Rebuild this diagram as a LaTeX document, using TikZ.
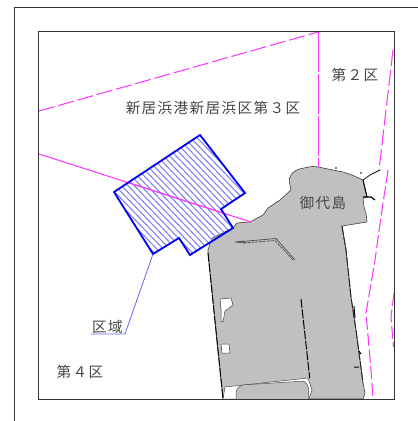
\documentclass[tikz,border=0pt]{standalone}
\usepackage{fontspec}
\newfontfamily\cjk[LetterSpace=9.5]{Noto Sans CJK JP}
\definecolor{isl}{HTML}{C0C0C0}
\definecolor{mag}{HTML}{FF38FF}
\definecolor{hat}{HTML}{7C7CF4}
\definecolor{lead}{HTML}{6868F0}
\definecolor{frm}{HTML}{333333}
\tikzset{
  frameline/.style={draw=frm,line width=0.9pt},
  zone/.style={draw=mag,line width=1.05pt},
  zonedash/.style={zone,dash pattern=on 16pt off 4pt},
  zonedashb/.style={zone,dash pattern=on 13pt off 3.5pt},
  shore/.style={draw=black,line width=0.7pt},
  shoredash/.style={draw=black,line width=1pt,dash pattern=on 9pt off 1.5pt},
  lbl/.style={inner sep=0pt,text=black!72,font=\cjk\fontsize{14.6}{15}\selectfont,anchor=center},
  lim/.style={draw=blue!95!black,line width=1.8pt,line join=miter},
}
\begin{document}
\begin{tikzpicture}[x=1pt,y=-1pt]
\useasboundingbox (0,0) rectangle (418,421);
\fill[white] (0,0) rectangle (418,421);
% outer frame
\draw[frameline] (418,7.5) -- (14.5,7.5) -- (14.5,421);
% island
\begin{scope}
\clip (38.5,31.5) rectangle (394.5,399);
\path[fill=isl,draw=black!75,line width=0.6pt]
 (208,253) -- (208,250) -- (212,238) -- (233,228) -- (237,223) -- (250,222) -- (263,215) -- (268,208)
 -- (280,200) -- (291,190) [rounded corners=4pt] -- (288.5,178) -- (295,170) -- (313,166) [sharp corners] -- (318,167) -- (343,172)
 -- (352,175) -- (363,180) -- (367,197) -- (363,198) -- (364,207) -- (366,213) -- (367,222) -- (342,226)
 -- (346,250) -- (351,297) -- (356,330) -- (363,383) -- (365,393) -- (363,399) -- (223,399) -- cycle;
% white inlets
\path[fill=white,draw=black!70,line width=0.5pt] (225,387) -- (308,378) -- (312,390) -- (309,399) -- (223,399) -- cycle;
\path[fill=isl,draw=black!70,line width=0.5pt,rounded corners=3pt] (236,402) -- (236,390) -- (241,385) -- (305,381) -- (309,388) -- (308,402);
\path[fill=white,draw=black!75,line width=0.5pt] (220,299) -- (231,298) -- (233,305) -- (225,311) -- (223,322) -- (221,321) -- (221,310) -- cycle;
\path[fill=white,draw=black!75,line width=0.5pt] (221,344) -- (229,344) -- (230,353) -- (222,353) -- cycle;
\path[fill=white,draw=black!80,line width=0.5pt] (236,242) -- (243,241) -- (245,243) -- cycle;
\draw[black!70,line width=0.7pt] (236,242) -- (276,238.5) -- (295,260);
\draw[black!70,line width=0.7pt,dash pattern=on 3pt off 1pt] (243,243) -- (275,240.5) -- (293,260);
% black shore details
\draw[shoredash] (208,253) -- (223,399);
\draw[shoredash] (301,299) -- (309.7,378);
\draw[shoredash,draw=black!85] (342,226) -- (346,250) -- (351,297) -- (356,330) -- (363,383);
\draw[shore] (363,180) -- (370,175) -- (380,170);
\draw[shore,line width=1.2pt] (363,197) -- (371,197) -- (375,200);
\draw[shore,line width=1pt] (363,180) -- (367,197);
\fill[black] (336,168) circle (0.8pt) (361,173) circle (0.8pt);
\draw[shore,line width=1pt] (354,306) -- (355,318) (359,351) -- (361,354) (354,367) -- (359,367);
% zone limits
\draw[zone] (39,154) -- (251,222);
\draw[zone,dash pattern=on 40pt off 2pt] (318.5,32) -- (318.5,167);
\draw[zonedash] (39,111) -- (318,32);
\draw[zonedash] (393,50) -- (379,170);
\draw[zonedashb] (388,170) -- (382,210) -- (375,260) -- (366,313) -- (371,370) -- (373,399);
\draw[zonedashb] (394,293) -- (391,317) -- (393.5,347);
\end{scope}
% area
\coordinate (a1) at (153,254);
\begin{scope}
\clip (200,135) -- (245,193) -- (221,209) -- (233,228) -- (190,255) -- (179,238) -- (153,254) -- (114,192) -- cycle;
\foreach \k in {-35,...,30}
  \draw[hat,line width=1pt] ({\k*6.4+100},130) -- ({\k*6.4+100+125},260);
\draw[zone] (39,154) -- (251,222);
\end{scope}
\path[lim] (200,135) -- (245,193) -- (221,209) -- (233,228) -- (190,255) -- (179,238) -- (a1) -- (114,192) -- cycle;
% inner frame
\draw[frameline] (38.5,31.5) rectangle (394.5,399);
% labels
\node[lbl] (t3) at (213,108) {新居浜港新居浜区第３区};
\node[lbl] (t2) at (355,74.5) {第２区};
\node[lbl] (tm) at (323,203) {御代島};
\node[lbl] (tk) at (107.5,326.5) {区域};
\node[lbl] (t4) at (80,372) {第４区};
\coordinate (a2) at (125,334);
\coordinate (a3) at (91,334);
\draw[lead,line width=0.8pt] (a1) -- (a2) -- (a3);
\end{tikzpicture}
\end{document}
